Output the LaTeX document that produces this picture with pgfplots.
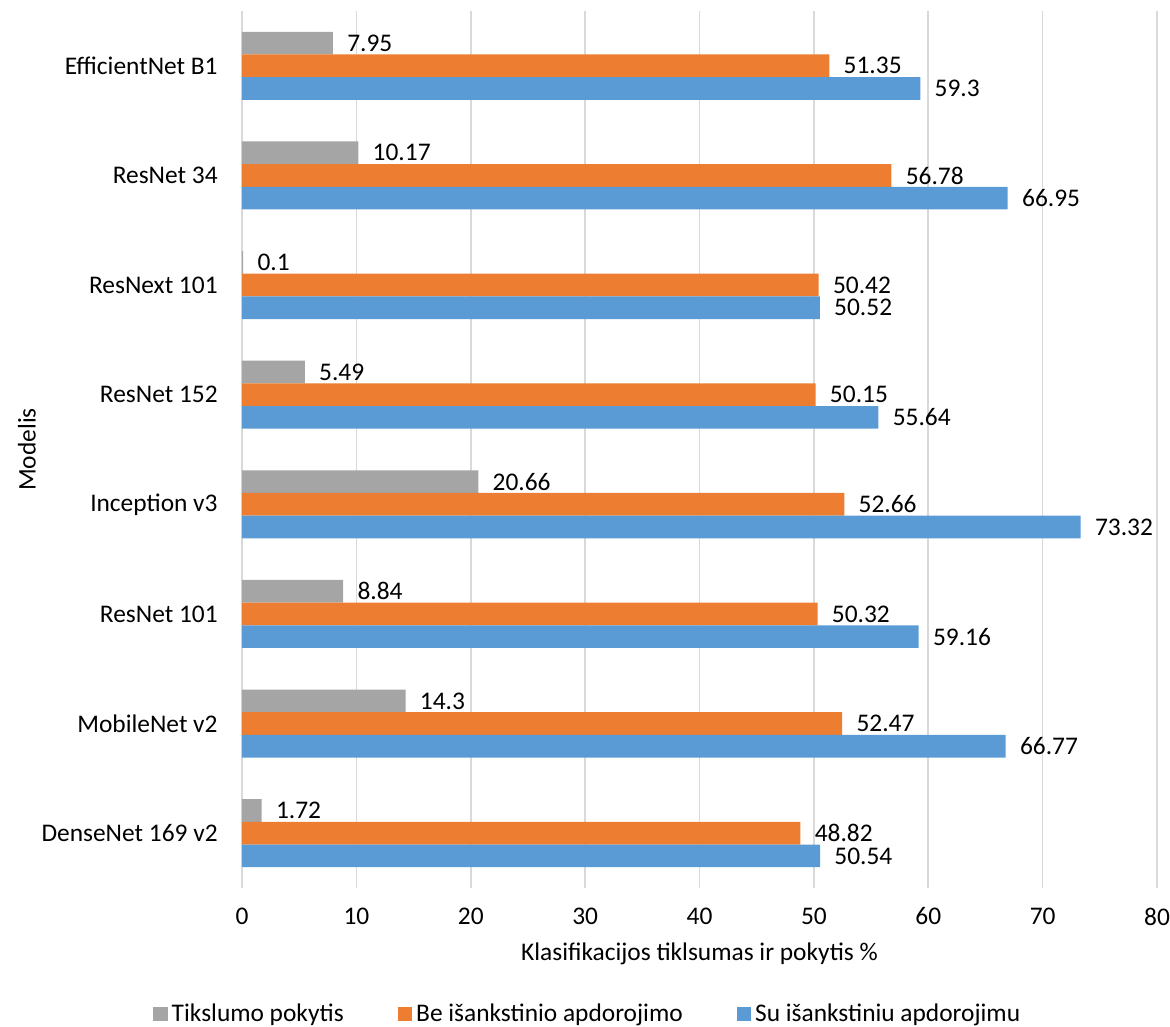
\documentclass[border=0pt]{standalone}
\usepackage{pgfplots}
\pgfplotsset{compat=1.18}
\usepackage{fontspec}
\setmainfont{Carlito}
\definecolor{cgray}{HTML}{A5A5A5}
\definecolor{corange}{HTML}{ED7D31}
\definecolor{cblue}{HTML}{5B9BD5}
\definecolor{cgrid}{HTML}{D9D9D9}
\newcommand{\chartfont}{\fontsize{12.7pt}{15pt}\selectfont}
\begin{document}
\begin{tikzpicture}
\useasboundingbox (-121pt,-69pt) rectangle (464pt,444pt);
\begin{axis}[
  scale only axis,
  width=457.5pt, height=438.5pt,
  at={(0,0)}, anchor=south west,
  xbar, bar width=11.35pt,
  xmin=0, xmax=80, ymin=-0.5, ymax=7.5,
  xtick={0,10,...,80},
  ytick={0,...,7},
  yticklabels={DenseNet 169 v2, MobileNet v2, ResNet 101, Inception v3, ResNet 152, ResNext 101, ResNet 34, EfficientNet B1},
  axis line style={draw=none},
  major tick length=0pt,
  xmajorgrids, grid style={cgrid, line width=0.8pt},
  font=\chartfont,
  /pgf/number format/assume math mode=true,
  ticklabel style={font=\chartfont},
  xticklabel style={anchor=center, inner sep=0pt, yshift=-14.25pt},
  yticklabel style={anchor=east, inner sep=0pt, xshift=-12pt},
  xlabel={Klasifikacijos tiklsumas ir pokytis \%},
  xlabel style={at={(axis description cs:0.5,0)}, anchor=base, yshift=-36pt, inner sep=0pt},
  ylabel={Modelis},
  ylabel style={at={(axis description cs:-0.235,0.5)}, anchor=center, rotate=0, inner sep=0pt},
  nodes near coords,
  every node near coord/.append style={anchor=west, inner sep=0pt, xshift=7pt, font=\chartfont, black},
  clip=false,
  legend columns=3,
  legend style={at={(axis description cs:0.379,-0.1437)}, anchor=center, draw=none, fill=none,
    font=\chartfont,
    /tikz/every odd column/.append style={column sep=0pt},
    /tikz/every even column/.append style={column sep=25pt}},
  legend image code/.code={\fill[#1] (0pt,-3.6pt) rectangle (7.2pt,3.6pt);},
]
\addplot[fill=cgray, draw=none, bar shift=11.35pt] coordinates {
(1.72,0) (14.3,1) (8.84,2) (20.66,3) (5.49,4) (0.1,5) (10.17,6) (7.95,7)};
\addplot[fill=corange, draw=none, bar shift=0pt] coordinates {
(48.82,0) (52.47,1) (50.32,2) (52.66,3) (50.15,4) (50.42,5) (56.78,6) (51.35,7)};
\addplot[fill=cblue, draw=none, bar shift=-11.35pt] coordinates {
(50.54,0) (66.77,1) (59.16,2) (73.32,3) (55.64,4) (50.52,5) (66.95,6) (59.3,7)};
\legend{Tikslumo pokytis, Be išankstinio apdorojimo, Su išankstiniu apdorojimu}
\end{axis}
\end{tikzpicture}
\end{document}
